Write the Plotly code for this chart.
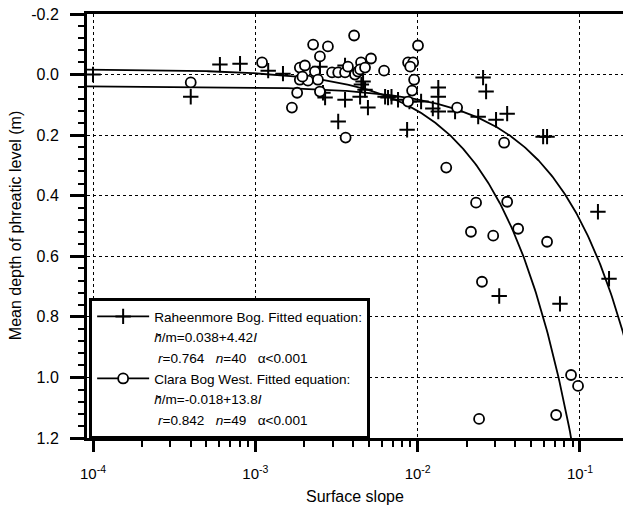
import numpy as np
import plotly.graph_objects as go

# Raheenmore Bog: surface slope (I) and mean depth of phreatic level (m)
rah_slope = [1.0e-4, 4.0e-4, 6.05e-4, 8.05e-4, 1.2e-3, 1.48e-3, 2.5e-3, 2.61e-3,
             2.69e-3, 3.24e-3, 3.57e-3, 4.42e-3, 4.61e-3, 4.74e-3, 4.94e-3, 6.3e-3,
             6.57e-3, 7.57e-3, 8.61e-3, 8.9e-3, 1.05e-2, 1.34e-2, 1.34e-2, 1.24e-2,
             1.34e-2, 1.70e-2, 2.53e-2, 2.64e-2, 2.36e-2, 3.04e-2, 3.56e-2, 5.93e-2,
             6.27e-2, 0.129, 0.151, 3.18e-2, 7.53e-2, 4.5e-3, 3.57e-3, 6.9e-3]
rah_depth = [0.000, 0.073, -0.033, -0.036, -0.013, -0.003, -0.026, 0.060,
             0.076, 0.155, 0.083, 0.073, 0.023, 0.050, 0.109, 0.073,
             0.076, 0.083, 0.182, 0.089, 0.089, 0.043, 0.073, 0.112,
             0.122, 0.122, 0.010, 0.056, 0.139, 0.149, 0.129, 0.205,
             0.205, 0.453, 0.674, 0.731, 0.757, 0.033, -0.030, 0.073]

# Clara Bog West
clara_slope = [4.0e-4, 1.1e-3, 2.27e-3, 2.80e-3, 2.50e-3, 4.06e-3, 1.88e-3, 2.33e-3,
               2.97e-3, 3.24e-3, 3.57e-3, 3.72e-3, 4.11e-3, 1.88e-3, 2.11e-3, 2.43e-3,
               1.81e-3, 2.50e-3, 1.68e-3, 5.16e-3, 4.48e-3, 4.29e-3, 6.21e-3, 8.73e-3,
               9.38e-3, 1.005e-2, 9.51e-3, 9.24e-3, 8.73e-3, 3.6e-3, 1.75e-2, 3.41e-2,
               1.50e-2, 2.29e-2, 3.56e-2, 2.13e-2, 2.92e-2, 4.16e-2, 6.27e-2, 2.49e-2,
               8.81e-2, 9.73e-2, 7.13e-2, 2.39e-2, 4.42e-3, 9.0e-3, 1.95e-3, 2.02e-3,
               4.74e-3]
clara_depth = [0.026, -0.040, -0.099, -0.093, -0.060, -0.129, -0.023, -0.010,
               -0.007, -0.007, -0.007, -0.026, 0.000, 0.017, 0.020, 0.017,
               0.060, 0.056, 0.109, -0.053, -0.040, -0.010, -0.013, -0.040,
               -0.040, -0.096, 0.017, 0.053, 0.089, 0.208, 0.109, 0.225,
               0.307, 0.423, 0.420, 0.519, 0.532, 0.509, 0.552, 0.684,
               0.992, 1.028, 1.124, 1.137, -0.017, -0.026, 0.007, -0.030,
               -0.023]

# Fitted equations: h/m = a + b * I
rah_a, rah_b = 0.038, 4.42
clara_a, clara_b = -0.018, 13.8

x_tick_vals = [1e-4, 1e-3, 1e-2, 1e-1]
x_tick_text = ["10<sup>-4</sup>", "10<sup>-3</sup>", "10<sup>-2</sup>", "10<sup>-1</sup>"]
y_tick_vals = [-0.2, 0.0, 0.2, 0.4, 0.6, 0.8, 1.0, 1.2]
y_tick_text = ["-0.2", "0.0", "0.2", "0.4", "0.6", "0.8", "1.0", "1.2"]

legend_lines = [
    ("rah", "Raheenmore Bog. Fitted equation:"),
    (None, "<i>h̄</i>/m=0.038+4.42<i>I</i>"),
    (None, "\u00a0<i>r</i>=0.764\u00a0\u00a0\u00a0<i>n</i>=40\u00a0\u00a0\u00a0α<0.001"),
    ("clara", "Clara Bog West. Fitted equation:"),
    (None, "<i>h̄</i>/m=-0.018+13.8<i>I</i>"),
    (None, "\u00a0<i>r</i>=0.842\u00a0\u00a0\u00a0<i>n</i>=49\u00a0\u00a0\u00a0α<0.001"),
]

FONT = "Liberation Sans, Arial, sans-serif"
slope_grid = np.logspace(-4.2, -0.6, 500)

fig = go.Figure()

fig.add_trace(go.Scatter(x=slope_grid, y=rah_a + rah_b * slope_grid, mode="lines",
                         line=dict(color="black", width=1.8), showlegend=False,
                         hoverinfo="skip"))
fig.add_trace(go.Scatter(x=slope_grid, y=clara_a + clara_b * slope_grid, mode="lines",
                         line=dict(color="black", width=1.8), showlegend=False,
                         hoverinfo="skip"))

fig.add_trace(go.Scatter(x=rah_slope, y=rah_depth, mode="markers", showlegend=False,
                         marker=dict(symbol="cross-thin", size=11, color="black",
                                     line=dict(color="black", width=2))))
fig.add_trace(go.Scatter(x=clara_slope, y=clara_depth, mode="markers", showlegend=False,
                         marker=dict(symbol="circle", size=10, color="white",
                                     line=dict(color="black", width=1.8))))

# legend entries (one per text line so the spacing can be controlled)
for i, (kind, text) in enumerate(legend_lines):
    if kind == "rah":
        tr = go.Scatter(x=[None], y=[None], mode="lines+markers", name=text,
                        line=dict(color="black", width=1.8),
                        marker=dict(symbol="cross-thin", size=11, color="black",
                                    line=dict(color="black", width=2)))
    elif kind == "clara":
        tr = go.Scatter(x=[None], y=[None], mode="lines+markers", name=text,
                        line=dict(color="black", width=1.8),
                        marker=dict(symbol="circle", size=10, color="white",
                                    line=dict(color="black", width=1.8)))
    else:
        tr = go.Scatter(x=[None], y=[None], mode="none", name=text)
    tr.update(legendgroup=f"g{i}", legendrank=i + 1, showlegend=True)
    fig.add_trace(tr)

fig.update_layout(
    width=623, height=508,
    margin=dict(l=87, r=0, t=14, b=70),
    paper_bgcolor="white", plot_bgcolor="white",
    font=dict(family=FONT, size=14, color="black"),
    showlegend=True,
    legend=dict(x=0.004, y=0.33, xanchor="left", yanchor="top",
                bgcolor="white", bordercolor="black", borderwidth=3,
                font=dict(family=FONT, size=13.6, color="black"),
                itemwidth=52, traceorder="normal"),
)

fig.update_xaxes(
    type="log", range=[-4.037, -0.735],
    tickvals=x_tick_vals, ticktext=x_tick_text,
    ticks="outside", ticklen=11, tickwidth=2.5, tickcolor="black",
    ticklabelstandoff=9,
    showline=True, linewidth=3, linecolor="black", mirror=True,
    showgrid=True, gridcolor="black", gridwidth=1, griddash="dot",
    zeroline=False,
    minor=dict(dtick="D1", ticks="outside", ticklen=6, tickwidth=2,
               tickcolor="black", showgrid=False),
    tickfont=dict(family=FONT, size=15, color="black"),
)
fig.update_yaxes(
    range=[1.2, -0.2],
    tickvals=y_tick_vals, ticktext=y_tick_text,
    ticks="outside", ticklen=14, tickwidth=3, tickcolor="black",
    ticklabelstandoff=8,
    showline=True, linewidth=3, linecolor="black", mirror=False,
    showgrid=True, gridcolor="black", gridwidth=1, griddash="dot",
    zeroline=False,
    minor=dict(dtick=0.04, tick0=0, ticks="outside", ticklen=6, tickwidth=2,
               tickcolor="black", showgrid=False),
    tickfont=dict(family=FONT, size=16, color="black"),
)

fig.add_annotation(text="Surface slope", xref="paper", yref="paper",
                   x=0.5, y=-0.139, xanchor="center", yanchor="middle",
                   showarrow=False, font=dict(family=FONT, size=16, color="black"))
fig.add_annotation(text="Mean depth of phreatic level (m)", xref="paper", yref="paper",
                   x=-0.134, y=0.5, xanchor="center", yanchor="middle", textangle=-90,
                   showarrow=False, font=dict(family=FONT, size=16, color="black"))

fig.write_html("out.html")
